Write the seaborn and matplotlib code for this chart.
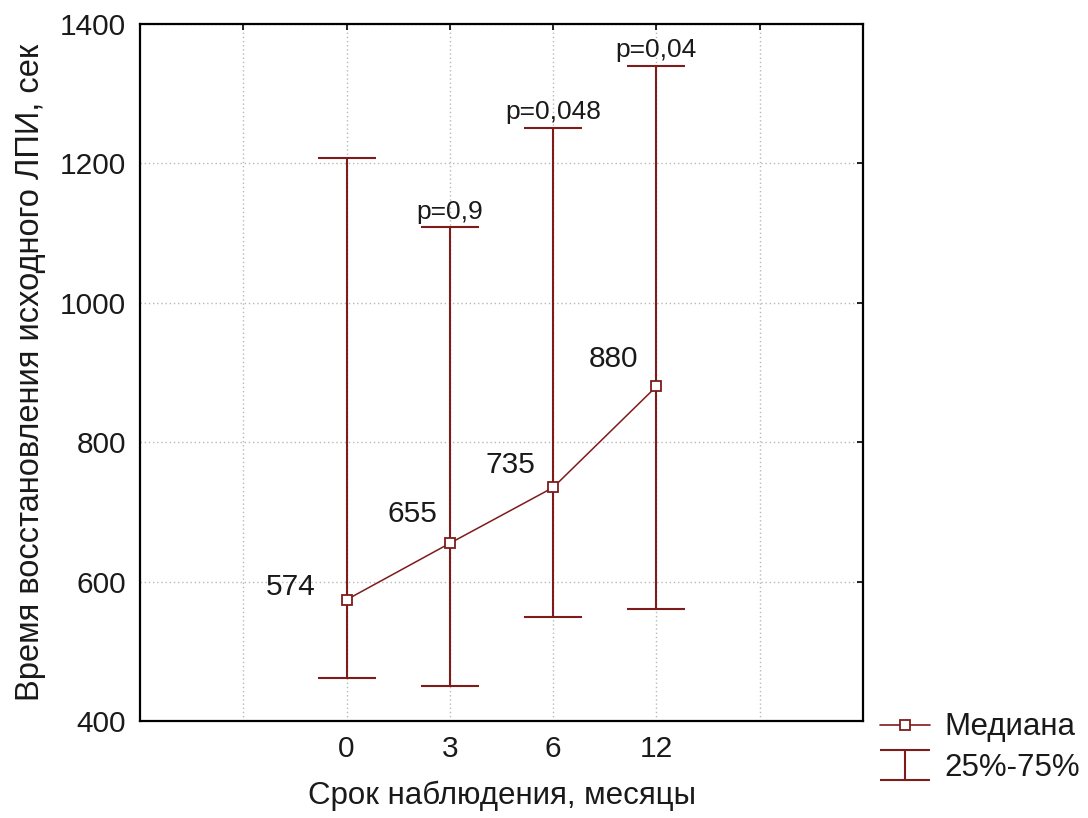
import numpy as np
import pandas as pd
import matplotlib
matplotlib.use("Agg")
import matplotlib.pyplot as plt
from matplotlib.path import Path
from matplotlib.lines import Line2D
import seaborn as sns

# Observation periods (months) and recovery-time statistics, seconds
months = ["0", "3", "6", "12"]
median = [574, 655, 735, 880]
q25 = [461, 450, 549, 561]
q75 = [1207, 1108, 1251, 1340]
p_labels = ["", "p=0,9", "p=0,048", "p=0,04"]

# label offsets (points) for the median value annotations
label_offsets = [(-40, 9), (-27, 21), (-31, 16), (-31, 20)]

sns.set_theme(style="white")
plt.rcParams["font.family"] = ["Liberation Sans", "DejaVu Sans"]

RED = "#7e1b1b"
TXT = "#1a1a1a"

df = pd.DataFrame({"pos": np.arange(len(months)), "month": months,
                   "median": median, "q25": q25, "q75": q75})

fig = plt.figure(figsize=(10.88, 8.18), dpi=100)
ax = fig.add_axes([0.1287, 0.1186, 0.6645, 0.8521])

# interquartile whiskers
yerr = np.vstack([df["median"] - df["q25"], df["q75"] - df["median"]])
ax.errorbar(df["pos"], df["median"], yerr=yerr, fmt="none", ecolor=RED,
            elinewidth=1.5, capsize=21, capthick=1.5, zorder=2)

# medians
sns.lineplot(data=df, x="pos", y="median", ax=ax, color=RED, lw=1.1,
             marker="s", markersize=6.5, markerfacecolor="white",
             markeredgecolor=RED, markeredgewidth=1.3, zorder=3)

for i, row in df.iterrows():
    ax.annotate(f"{row['median']}", (row["pos"], row["median"]),
                xytext=label_offsets[i], textcoords="offset points",
                ha="center", va="center", fontsize=21.5, color=TXT)
    if p_labels[i]:
        ax.annotate(p_labels[i], (row["pos"], row["q75"]),
                    xytext=(0, 6), textcoords="offset points",
                    ha="center", va="baseline", fontsize=19, color=TXT)

ax.set_xlim(-2, 5)
ax.set_ylim(400, 1400)
ax.set_xticks(np.arange(-1, 5))
ax.set_xticklabels([""] + months + [""])
ax.set_yticks(np.arange(400, 1401, 200))
ax.tick_params(axis="both", which="both", direction="in", length=4, width=1.2,
               top=True, right=True, labelsize=21.5, labelcolor=TXT, color="black",
               pad=10)
ax.grid(True, linestyle=(0, (1, 2)), color="#b8b8b8", lw=1)
for sp in ax.spines.values():
    sp.set_visible(True)
    sp.set_color("black")
    sp.set_linewidth(1.6)

ax.set_xlabel("Срок наблюдения, месяцы", fontsize=22.5, color=TXT, labelpad=13)
ax.set_ylabel("Время восстановления исходного ЛПИ, сек", fontsize=23.5,
              color=TXT, labelpad=10)

# legend
ibeam = Path([(-1, 0.6), (1, 0.6), (0, 0.6), (0, -0.6), (-1, -0.6), (1, -0.6)],
             [Path.MOVETO, Path.LINETO, Path.MOVETO, Path.LINETO, Path.MOVETO, Path.LINETO])
handles = [
    Line2D([], [], color=RED, lw=1.2, marker="s", markersize=6.5,
           markerfacecolor="white", markeredgecolor=RED, markeredgewidth=1.3),
    Line2D([], [], linestyle="none", marker=ibeam, markersize=36,
           markerfacecolor="none", markeredgecolor=RED, markeredgewidth=1.5),
]
fig.legend(handles, ["Медиана", "25%-75%"], loc="upper left",
           bbox_to_anchor=(0.809, 0.129), frameon=False, fontsize=22.5,
           handlelength=1.6, handletextpad=0.45, labelspacing=0.35,
           numpoints=1, labelcolor=TXT, borderpad=0, borderaxespad=0)

fig.savefig("out.png", dpi=100)
